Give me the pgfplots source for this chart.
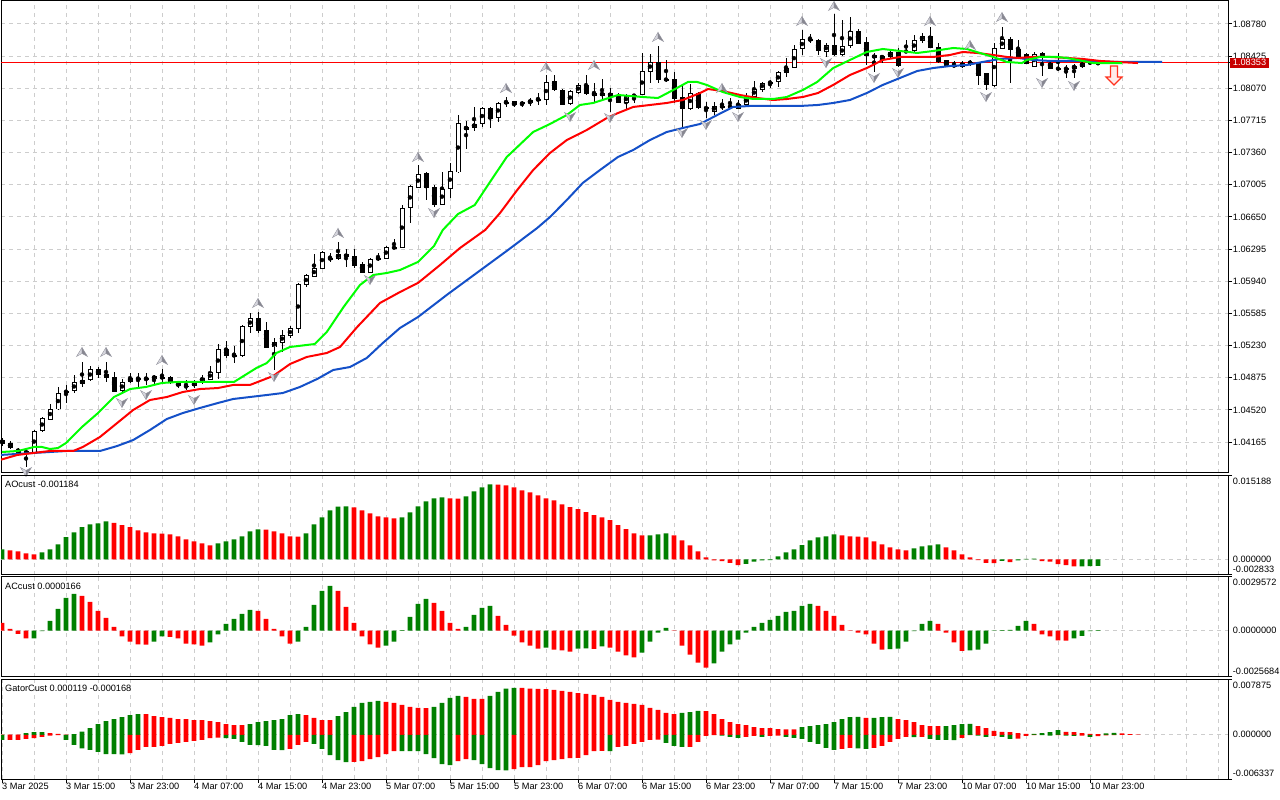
\documentclass[border=0pt]{standalone}
\usepackage{pgfplots}
\pgfplotsset{compat=1.18}
\usepackage{pgfplotstable}
\usepackage{fontspec}
\setmainfont{Liberation Sans}

\definecolor{mtgreen}{RGB}{0,128,0}
\definecolor{mtred}{RGB}{255,0,0}
\definecolor{lips}{RGB}{0,255,0}
\definecolor{teeth}{RGB}{255,0,0}
\definecolor{jaw}{RGB}{20,80,200}
\definecolor{gridc}{RGB}{205,205,205}
\definecolor{pricebox}{RGB}{200,0,0}
\definecolor{fracL}{RGB}{215,215,222}
\definecolor{fracR}{RGB}{135,135,145}
\definecolor{fracE}{RGB}{150,150,160}
\definecolor{arrline}{RGB}{255,50,30}
\definecolor{arrfill}{RGB}{255,235,235}

\pgfdeclareplotmark{fup}{%
  \pgfsetlinewidth{0.4bp}\pgfsetstrokecolor{fracE}%
  \pgfpathmoveto{\pgfqpoint{0bp}{4.5bp}}\pgfpathlineto{\pgfqpoint{-5.5bp}{-4.5bp}}\pgfpathlineto{\pgfqpoint{0bp}{-1.5bp}}\pgfpathclose
  \pgfsetfillcolor{fracL}\pgfusepath{fill,stroke}%
  \pgfpathmoveto{\pgfqpoint{0bp}{4.5bp}}\pgfpathlineto{\pgfqpoint{5.5bp}{-4.5bp}}\pgfpathlineto{\pgfqpoint{0bp}{-1.5bp}}\pgfpathclose
  \pgfsetfillcolor{fracR}\pgfusepath{fill,stroke}}
\pgfdeclareplotmark{fdown}{%
  \pgfsetlinewidth{0.4bp}\pgfsetstrokecolor{fracE}%
  \pgfpathmoveto{\pgfqpoint{0bp}{-4.5bp}}\pgfpathlineto{\pgfqpoint{-5.5bp}{4.5bp}}\pgfpathlineto{\pgfqpoint{0bp}{1.5bp}}\pgfpathclose
  \pgfsetfillcolor{fracL}\pgfusepath{fill,stroke}%
  \pgfpathmoveto{\pgfqpoint{0bp}{-4.5bp}}\pgfpathlineto{\pgfqpoint{5.5bp}{4.5bp}}\pgfpathlineto{\pgfqpoint{0bp}{1.5bp}}\pgfpathclose
  \pgfsetfillcolor{fracR}\pgfusepath{fill,stroke}}
\pgfdeclareplotmark{redarr}{%
  \pgfsetlinewidth{1.2bp}\pgfsetstrokecolor{arrline}\pgfsetfillcolor{arrfill}%
  \pgfpathmoveto{\pgfqpoint{-3.5bp}{9bp}}\pgfpathlineto{\pgfqpoint{3.5bp}{9bp}}%
  \pgfpathlineto{\pgfqpoint{3.5bp}{-2bp}}\pgfpathlineto{\pgfqpoint{8bp}{-2bp}}%
  \pgfpathlineto{\pgfqpoint{0bp}{-10bp}}\pgfpathlineto{\pgfqpoint{-8bp}{-2bp}}%
  \pgfpathlineto{\pgfqpoint{-3.5bp}{-2bp}}\pgfpathclose
  \pgfusepath{fill,stroke}}

\pgfplotstableread{
u o h l c
0 1.04187 1.04209 1.04121 1.04154
1 1.04154 1.04176 1.04088 1.04099
2 1.04077 1.04099 1.04044 1.04055
3 1.04066 1.04077 1.03889 1.04044
4 1.04055 1.04298 1.04044 1.04287
5 1.04287 1.04441 1.04276 1.04430
6 1.04419 1.04585 1.04408 1.04530
7 1.04530 1.04773 1.04519 1.04706
8 1.04728 1.04795 1.04596 1.04717
9 1.04728 1.04905 1.04706 1.04828
10 1.04806 1.05049 1.04773 1.04850
11 1.04850 1.05004 1.04839 1.04971
12 1.04971 1.04993 1.04872 1.04916
13 1.04916 1.05049 1.04828 1.04883
14 1.04883 1.04938 1.04717 1.04728
15 1.04728 1.04861 1.04717 1.04828
16 1.04828 1.04927 1.04817 1.04872
17 1.04872 1.04927 1.04773 1.04861
18 1.04861 1.04927 1.04795 1.04872
19 1.04861 1.04905 1.04795 1.04894
20 1.04872 1.04971 1.04828 1.04883
21 1.04883 1.04894 1.04806 1.04817
22 1.04817 1.04839 1.04761 1.04784
23 1.04784 1.04850 1.04739 1.04773
24 1.04784 1.04850 1.04761 1.04828
25 1.04839 1.04905 1.04806 1.04872
26 1.04861 1.05004 1.04850 1.04938
27 1.04938 1.05247 1.04861 1.05192
28 1.05192 1.05280 1.05093 1.05115
29 1.05126 1.05225 1.05037 1.05115
30 1.05115 1.05457 1.05104 1.05446
31 1.05435 1.05589 1.05369 1.05534
32 1.05534 1.05601 1.05369 1.05402
33 1.05402 1.05490 1.05214 1.05214
34 1.05214 1.05313 1.04960 1.05269
35 1.05269 1.05402 1.05159 1.05347
36 1.05336 1.05446 1.05313 1.05424
37 1.05413 1.05921 1.05369 1.05910
38 1.05899 1.06020 1.05877 1.06009
39 1.05998 1.06241 1.05987 1.06086
40 1.06086 1.06274 1.06075 1.06263
41 1.06197 1.06252 1.06153 1.06186
42 1.06197 1.06373 1.06175 1.06241
43 1.06241 1.06296 1.06097 1.06208
44 1.06219 1.06296 1.06086 1.06119
45 1.06130 1.06153 1.06031 1.06042
46 1.06042 1.06197 1.06031 1.06186
47 1.06197 1.06252 1.06164 1.06186
48 1.06197 1.06329 1.06186 1.06318
49 1.06318 1.06406 1.06296 1.06307
50 1.06318 1.06782 1.06307 1.06749
51 1.06749 1.07003 1.06583 1.06981
52 1.06981 1.07223 1.06969 1.07124
53 1.07124 1.07146 1.06837 1.06969
54 1.06981 1.07003 1.06760 1.06793
55 1.06793 1.07146 1.06782 1.06958
56 1.06969 1.07245 1.06859 1.07157
57 1.07146 1.07775 1.07135 1.07687
58 1.07621 1.07709 1.07400 1.07643
59 1.07643 1.07864 1.07599 1.07676
60 1.07676 1.07864 1.07643 1.07853
61 1.07853 1.07864 1.07632 1.07742
62 1.07742 1.07919 1.07698 1.07908
63 1.07919 1.07974 1.07864 1.07908
64 1.07919 1.07930 1.07864 1.07886
65 1.07897 1.07930 1.07864 1.07908
66 1.07908 1.07963 1.07875 1.07941
67 1.07952 1.08018 1.07886 1.07941
68 1.07941 1.08217 1.07886 1.08140
69 1.08151 1.08217 1.08040 1.08051
70 1.08051 1.08062 1.07886 1.07897
71 1.07897 1.08051 1.07886 1.08040
72 1.08029 1.08129 1.08007 1.08107
73 1.08107 1.08217 1.07996 1.08018
74 1.07996 1.08129 1.07908 1.08018
75 1.07996 1.08173 1.07930 1.08018
76 1.08018 1.08073 1.07809 1.07985
77 1.07985 1.08018 1.07908 1.07919
78 1.07919 1.08007 1.07831 1.07985
79 1.07996 1.08007 1.07908 1.07985
80 1.08007 1.08460 1.07996 1.08261
81 1.08261 1.08449 1.08129 1.08361
82 1.08361 1.08537 1.08129 1.08173
83 1.08173 1.08383 1.08140 1.08162
84 1.08173 1.08250 1.07908 1.07963
85 1.07974 1.08107 1.07632 1.07842
86 1.07842 1.08118 1.07831 1.08018
87 1.08018 1.08029 1.07842 1.07853
88 1.07864 1.07919 1.07742 1.07842
89 1.07820 1.07919 1.07775 1.07875
90 1.07864 1.07952 1.07831 1.07875
91 1.07864 1.07963 1.07853 1.07875
92 1.07853 1.07941 1.07842 1.07897
93 1.07886 1.08018 1.07875 1.07985
94 1.07985 1.08151 1.07974 1.08062
95 1.08062 1.08140 1.08029 1.08129
96 1.08140 1.08162 1.08073 1.08129
97 1.08140 1.08261 1.08085 1.08239
98 1.08239 1.08405 1.08195 1.08294
99 1.08305 1.08548 1.08294 1.08504
100 1.08504 1.08714 1.08438 1.08614
101 1.08614 1.08670 1.08570 1.08603
102 1.08603 1.08614 1.08438 1.08482
103 1.08482 1.08570 1.08416 1.08548
104 1.08548 1.08890 1.08427 1.08438
105 1.08438 1.08824 1.08427 1.08537
106 1.08537 1.08857 1.08515 1.08703
107 1.08703 1.08725 1.08559 1.08570
108 1.08581 1.08637 1.08327 1.08438
109 1.08438 1.08460 1.08250 1.08405
110 1.08405 1.08438 1.08349 1.08427
111 1.08416 1.08493 1.08405 1.08471
112 1.08471 1.08515 1.08305 1.08327
113 1.08471 1.08603 1.08460 1.08482
114 1.08482 1.08659 1.08471 1.08603
115 1.08603 1.08681 1.08570 1.08648
116 1.08648 1.08747 1.08515 1.08526
117 1.08526 1.08570 1.08349 1.08361
118 1.08372 1.08383 1.08305 1.08316
119 1.08327 1.08372 1.08305 1.08316
120 1.08305 1.08372 1.08294 1.08349
121 1.08361 1.08383 1.08316 1.08349
122 1.08349 1.08361 1.08107 1.08217
123 1.08239 1.08239 1.08051 1.08107
124 1.08096 1.08570 1.08085 1.08515
125 1.08515 1.08747 1.08504 1.08614
126 1.08614 1.08637 1.08129 1.08493
127 1.08504 1.08603 1.08416 1.08427
128 1.08449 1.08460 1.08338 1.08349
129 1.08316 1.08471 1.08305 1.08449
130 1.08460 1.08471 1.08206 1.08416
131 1.08349 1.08383 1.08283 1.08294
132 1.08294 1.08460 1.08261 1.08283
133 1.08294 1.08327 1.08184 1.08283
134 1.08294 1.08338 1.08184 1.08316
135 1.08305 1.08372 1.08294 1.08349
136 1.08349 1.08383 1.08327 1.08361
137 1.08345 1.08361 1.08338 1.08353
}\candles

\pgfplotstableread{
u p
0 1.04055
2 1.04066
4 1.04110
5 1.04110
6 1.04088
7 1.04099
8 1.04154
10 1.04331
12 1.04485
14 1.04662
16 1.04750
18 1.04773
20 1.04817
22 1.04828
25 1.04828
27 1.04828
29 1.04828
31.8 1.04982
33.1 1.05037
34.3 1.05148
36 1.05214
39.1 1.05247
40.6 1.05380
42.7 1.05656
44.75 1.05899
46.4 1.06009
48.1 1.06031
49.75 1.06064
52 1.06153
54 1.06329
55.1 1.06506
57 1.06682
59.1 1.06782
61 1.07036
63.1 1.07312
66.4 1.07588
68.5 1.07676
70.6 1.07775
72.25 1.07886
73.9 1.07908
77 1.07996
80.1 1.07974
82 1.07963
83.9 1.08051
85.75 1.08140
86.9 1.08140
88.1 1.08107
90.1 1.08029
92.25 1.07974
93.9 1.07952
96.4 1.07952
98.1 1.07974
100.1 1.08051
101.9 1.08140
103.9 1.08294
106 1.08383
108.1 1.08471
110.1 1.08504
112.25 1.08482
114.4 1.08460
116.4 1.08482
118.9 1.08515
120.6 1.08504
122.25 1.08460
123.9 1.08416
125.6 1.08361
127.5 1.08349
128.1 1.08383
129.75 1.08416
131.9 1.08416
133.1 1.08405
135.1 1.08372
136.4 1.08349
140 1.08349
}\lipsline

\pgfplotstableread{
u p
-0.25 1.03967
1.9 1.04022
3.9 1.04044
6 1.04066
8.9 1.04066
10.1 1.04110
12.25 1.04221
14.4 1.04375
16.4 1.04519
18.5 1.04629
20.6 1.04662
22.6 1.04717
24.75 1.04750
27 1.04761
28.9 1.04795
31 1.04795
33.9 1.04894
36 1.05026
38.1 1.05104
40.6 1.05148
42.25 1.05214
44.4 1.05435
47.25 1.05700
49.75 1.05821
52 1.05921
54.75 1.06119
57.25 1.06307
60.4 1.06506
62.25 1.06693
64.4 1.06947
66.4 1.07168
68.5 1.07356
70.6 1.07499
73.1 1.07610
75.6 1.07742
77 1.07797
78.9 1.07864
81 1.07886
83.1 1.07908
85.1 1.07941
87.25 1.08018
88.25 1.08062
90.1 1.08040
92.25 1.07996
94.4 1.07963
96.4 1.07941
98.1 1.07952
100.1 1.07974
102 1.08018
103.9 1.08107
106 1.08217
108.1 1.08294
110.1 1.08383
112.25 1.08416
114.4 1.08416
116.4 1.08416
118.5 1.08438
120.1 1.08471
121.9 1.08460
123.9 1.08438
125.6 1.08416
127 1.08405
128.9 1.08416
131 1.08416
133.1 1.08405
135.1 1.08394
137.25 1.08372
139.4 1.08361
142 1.08349
}\teethline

\pgfplotstableread{
u p
-0.25 1.04022
3.9 1.04044
8.1 1.04066
10.1 1.04066
12.25 1.04066
14.4 1.04121
16.4 1.04187
18.5 1.04298
20.6 1.04419
22.6 1.04485
24.75 1.04541
27 1.04596
28.9 1.04640
33.1 1.04684
35.1 1.04706
37.25 1.04773
39.4 1.04861
41.4 1.04960
43.5 1.04993
45.6 1.05093
47.6 1.05258
49.75 1.05424
52 1.05545
55.75 1.05799
59.5 1.06042
63.25 1.06285
66.9 1.06528
68.5 1.06649
70.6 1.06837
72.6 1.07025
74.75 1.07168
77 1.07312
78.9 1.07389
81 1.07499
83.1 1.07588
85.1 1.07632
87.25 1.07676
89.4 1.07775
91.4 1.07864
93.5 1.07875
96.4 1.07875
99.75 1.07875
102 1.07886
103.9 1.07908
106 1.07941
108.1 1.08018
110.1 1.08107
112.25 1.08184
114.4 1.08261
116.4 1.08294
118.5 1.08316
120.6 1.08327
122.6 1.08361
124.75 1.08394
127 1.08405
128.9 1.08383
131 1.08372
135.1 1.08372
139.4 1.08361
145 1.08361
}\jawline

\pgfplotstableread{
u v g
0 0.00182 1
1 0.00164 0
2 0.00146 0
3 0.00109 0
4 0.00091 0
5 0.00127 1
6 0.00182 1
7 0.00273 1
8 0.00406 1
9 0.00491 1
10 0.00588 1
11 0.00637 1
12 0.00655 1
13 0.00692 1
14 0.00667 0
15 0.00625 0
16 0.00588 0
17 0.00528 0
18 0.00491 0
19 0.00473 0
20 0.00470 0
21 0.00455 0
22 0.00419 0
23 0.00364 0
24 0.00328 0
25 0.00291 0
26 0.00255 0
27 0.00291 1
28 0.00328 1
29 0.00364 1
30 0.00419 1
31 0.00510 1
32 0.00546 1
33 0.00544 0
34 0.00510 0
35 0.00473 0
36 0.00419 0
37 0.00417 0
38 0.00473 1
39 0.00637 1
40 0.00764 1
41 0.00892 1
42 0.00962 1
43 0.00965 1
44 0.00946 0
45 0.00892 0
46 0.00837 0
47 0.00783 0
48 0.00764 0
49 0.00746 0
50 0.00764 1
51 0.00855 1
52 0.00965 1
53 0.01056 1
54 0.01110 1
55 0.01128 1
56 0.01112 0
57 0.01108 0
58 0.01147 1
59 0.01238 1
60 0.01310 1
61 0.01365 1
62 0.01362 0
63 0.01347 0
64 0.01310 0
65 0.01256 0
66 0.01219 0
67 0.01165 0
68 0.01110 0
69 0.01074 0
70 0.01001 0
71 0.00950 0
72 0.00917 0
73 0.00862 0
74 0.00807 0
75 0.00765 0
76 0.00716 0
77 0.00625 0
78 0.00552 0
79 0.00473 0
80 0.00437 0
81 0.00440 1
82 0.00455 1
83 0.00473 1
84 0.00437 0
85 0.00346 0
86 0.00255 0
87 0.00146 0
88 0.00036 0
89 -0.00018 0
90 -0.00030 0
91 -0.00061 0
92 -0.00103 0
93 -0.00079 1
94 -0.00042 1
95 -0.00018 1
96 -0.00012 1
97 0.00055 1
98 0.00127 1
99 0.00182 1
100 0.00261 1
101 0.00346 1
102 0.00401 1
103 0.00419 1
104 0.00455 1
105 0.00437 0
106 0.00419 0
107 0.00416 0
108 0.00401 0
109 0.00328 0
110 0.00273 0
111 0.00219 0
112 0.00182 0
113 0.00164 0
114 0.00200 1
115 0.00237 1
116 0.00255 1
117 0.00273 1
118 0.00219 0
119 0.00164 0
120 0.00091 0
121 0.00036 0
122 -0.00012 0
123 -0.00061 0
124 -0.00067 0
125 -0.00024 1
126 -0.00049 0
127 -0.00018 1
128 0.00012 1
129 0.00014 1
130 -0.00030 0
131 -0.00042 0
132 -0.00085 0
133 -0.00105 0
134 -0.00128 0
135 -0.00125 1
136 -0.00121 1
137 -0.001184 1
}\aotab

\pgfplotstableread{
u v g
0 0.00042 0
1 0.00009 0
2 -0.00018 0
3 -0.00044 0
4 -0.00043 1
5 -0.00004 1
6 0.00053 1
7 0.00120 1
8 0.00181 1
9 0.00203 1
10 0.00192 0
11 0.00158 0
12 0.00109 0
13 0.00070 0
14 0.00020 0
15 -0.00033 0
16 -0.00061 0
17 -0.00077 0
18 -0.00078 0
19 -0.00061 1
20 -0.00033 1
21 -0.00035 0
22 -0.00044 0
23 -0.00072 0
24 -0.00077 0
25 -0.00083 0
26 -0.00066 1
27 -0.00022 1
28 0.00037 1
29 0.00065 1
30 0.00092 1
31 0.00114 1
32 0.00109 0
33 0.00065 0
34 0.00009 0
35 -0.00033 0
36 -0.00072 0
37 -0.00061 1
38 0.00020 1
39 0.00142 1
40 0.00219 1
41 0.00247 1
42 0.00219 0
43 0.00131 0
44 0.00042 0
45 -0.00033 0
46 -0.00077 0
47 -0.00094 0
48 -0.00083 1
49 -0.00061 1
50 0.00002 1
51 0.00076 1
52 0.00147 1
53 0.00175 1
54 0.00153 0
55 0.00109 0
56 0.00042 0
57 0.00009 0
58 0.00020 1
59 0.00087 1
60 0.00125 1
61 0.00136 1
62 0.00081 0
63 0.00031 0
64 -0.00028 0
65 -0.00066 0
66 -0.00083 0
67 -0.00100 0
68 -0.00094 1
69 -0.00105 0
70 -0.00110 0
71 -0.00116 0
72 -0.00100 1
73 -0.00099 1
74 -0.00101 0
75 -0.00088 1
76 -0.00094 0
77 -0.00116 0
78 -0.00138 0
79 -0.00149 0
80 -0.00122 1
81 -0.00061 1
82 -0.00011 1
83 0.00015 1
84 -0.00002 0
85 -0.00083 0
86 -0.00133 0
87 -0.00177 0
88 -0.00205 0
89 -0.00182 1
90 -0.00116 1
91 -0.00077 1
92 -0.00050 1
93 -0.00011 1
94 0.00020 1
95 0.00042 1
96 0.00059 1
97 0.00081 1
98 0.00103 1
99 0.00109 1
100 0.00136 1
101 0.00147 1
102 0.00136 0
103 0.00109 0
104 0.00081 0
105 0.00031 0
106 -0.00002 0
107 -0.00011 0
108 -0.00022 0
109 -0.00072 0
110 -0.00106 0
111 -0.00103 1
112 -0.00100 1
113 -0.00061 1
114 -0.00004 1
115 0.00037 1
116 0.00053 1
117 0.00037 0
118 -0.00011 0
119 -0.00066 0
120 -0.00112 0
121 -0.00110 1
122 -0.00105 1
123 -0.00072 1
124 0.00001 1
125 0.00002 1
126 0.00003 1
127 0.00026 1
128 0.00053 1
129 0.00037 0
130 -0.00022 0
131 -0.00033 0
132 -0.00055 0
133 -0.00056 0
134 -0.00044 1
135 -0.00030 1
136 -0.00003 1
137 0.0000166 1
}\actab

\pgfplotstableread{
u up ug lo lg
0 0.00005 0 -0.00072 1
1 0.00005 0 -0.00072 0
2 0.00005 0 -0.00072 0
3 0.00024 1 -0.00058 0
4 0.00039 1 -0.00048 0
5 0.00041 1 -0.00029 0
6 0.00024 0 -0.00010 0
7 0.00014 0 -0.00003 0
8 0.00005 0 -0.00072 1
9 0.00010 1 -0.00145 1
10 0.00048 1 -0.00193 1
11 0.00097 1 -0.00217 1
12 0.00155 1 -0.00246 1
13 0.00198 1 -0.00275 1
14 0.00227 1 -0.00277 1
15 0.00256 1 -0.00279 1
16 0.00285 1 -0.00261 0
17 0.00299 1 -0.00217 0
18 0.00297 0 -0.00174 0
19 0.00270 0 -0.00172 0
20 0.00256 0 -0.00159 0
21 0.00242 0 -0.00130 0
22 0.00227 0 -0.00116 0
23 0.00225 0 -0.00101 0
24 0.00213 0 -0.00087 0
25 0.00211 0 -0.00072 0
26 0.00198 0 -0.00048 0
27 0.00184 0 -0.00039 0
28 0.00155 0 -0.00048 1
29 0.00140 0 -0.00058 1
30 0.00138 0 -0.00101 1
31 0.00155 1 -0.00145 1
32 0.00184 1 -0.00146 1
33 0.00198 1 -0.00159 1
34 0.00213 1 -0.00217 1
35 0.00227 1 -0.00218 1
36 0.00285 1 -0.00203 0
37 0.00299 1 -0.00145 0
38 0.00285 0 -0.00101 0
39 0.00242 0 -0.00130 1
40 0.00213 0 -0.00203 1
41 0.00211 0 -0.00290 1
42 0.00270 1 -0.00362 1
43 0.00328 1 -0.00391 1
44 0.00401 1 -0.00389 0
45 0.00459 1 -0.00377 0
46 0.00473 1 -0.00348 0
47 0.00488 1 -0.00319 0
48 0.00473 0 -0.00275 0
49 0.00459 0 -0.00232 0
50 0.00430 0 -0.00233 1
51 0.00401 0 -0.00234 1
52 0.00386 0 -0.00235 1
53 0.00384 0 -0.00275 1
54 0.00401 1 -0.00333 1
55 0.00459 1 -0.00420 1
56 0.00531 1 -0.00435 1
57 0.00560 1 -0.00377 0
58 0.00546 0 -0.00348 0
59 0.00517 0 -0.00362 1
60 0.00515 0 -0.00420 1
61 0.00560 1 -0.00478 1
62 0.00618 1 -0.00507 1
63 0.00662 1 -0.00509 1
64 0.00676 1 -0.00493 0
65 0.00674 0 -0.00464 0
66 0.00662 0 -0.00462 0
67 0.00660 0 -0.00435 0
68 0.00658 0 -0.00377 0
69 0.00647 0 -0.00362 0
70 0.00633 0 -0.00348 0
71 0.00618 0 -0.00333 0
72 0.00600 0 -0.00331 0
73 0.00589 0 -0.00290 0
74 0.00575 0 -0.00232 0
75 0.00546 0 -0.00230 0
76 0.00502 0 -0.00233 1
77 0.00473 0 -0.00174 0
78 0.00459 0 -0.00159 0
79 0.00444 0 -0.00130 0
80 0.00430 0 -0.00101 0
81 0.00386 0 -0.00072 0
82 0.00357 0 -0.00070 0
83 0.00314 0 -0.00116 1
84 0.00299 0 -0.00159 1
85 0.00314 1 -0.00174 1
86 0.00328 1 -0.00172 0
87 0.00343 1 -0.00101 0
88 0.00340 0 -0.00014 0
89 0.00299 0 -0.00003 0
90 0.00227 0 -0.00010 1
91 0.00184 0 -0.00029 1
92 0.00155 0 -0.00043 1
93 0.00140 0 -0.00029 0
94 0.00111 0 -0.00014 0
95 0.00097 0 -0.00029 1
96 0.00095 0 -0.00014 0
97 0.00082 0 -0.00010 0
98 0.00080 0 -0.00029 1
99 0.00078 0 -0.00043 1
100 0.00111 1 -0.00058 1
101 0.00126 1 -0.00101 1
102 0.00140 1 -0.00130 1
103 0.00155 1 -0.00188 1
104 0.00184 1 -0.00217 1
105 0.00227 1 -0.00203 0
106 0.00256 1 -0.00188 0
107 0.00258 1 -0.00195 1
108 0.00242 0 -0.00200 1
109 0.00244 1 -0.00188 0
110 0.00256 1 -0.00159 0
111 0.00258 1 -0.00101 0
112 0.00227 0 -0.00058 0
113 0.00213 0 -0.00029 0
114 0.00184 0 -0.00032 1
115 0.00140 0 -0.00029 0
116 0.00126 0 -0.00058 1
117 0.00124 0 -0.00072 1
118 0.00127 1 -0.00073 1
119 0.00140 1 -0.00074 1
120 0.00155 1 -0.00043 0
121 0.00156 1 -0.00005 0
122 0.00126 0 -0.00010 1
123 0.00097 0 -0.00029 1
124 0.00058 0 -0.00014 0
125 0.00043 0 -0.00029 1
126 0.00039 0 -0.00058 1
127 0.00024 0 -0.00055 0
128 0.00014 0 -0.00014 0
129 0.00015 1 -0.00003 0
130 0.00024 1 -0.00005 1
131 0.00039 1 -0.00010 1
132 0.00068 1 -0.00003 0
133 0.00043 0 -0.00010 1
134 0.00039 0 -0.00014 1
135 0.00024 0 -0.00010 0
136 0.00014 0 -0.00029 1
137 0.000119 0 -0.000168 0
138 0.00020 1 -0.00008 0
139 0.00030 1 -0.00003 0
140 0.00022 0 -0.00002 0
141 0.00012 0 0 0
142 0.00005 0 0 0
}\gatortab

\tikzset{lab/.style={anchor=west, inner sep=0pt}}

\pgfplotsset{
  panel/.style={
    anchor=south west, scale only axis, width=1227bp,
    xmin=-0.125, xmax=153.25,
    axis line style={line width=1bp},
    xtick={4,8,...,152}, xticklabels={},
    xmajorgrids,
    grid style={color=gridc, dash pattern=on 4bp off 4bp, line width=1bp},
    tick align=outside, major tick length=4bp,
    ytick pos=right, yticklabel pos=right,
    tick style={black, line width=1bp},
    scaled y ticks=false, scaled x ticks=false,
    clip mode=individual,
    font=\fontsize{9.2bp}{11bp}\selectfont,
    tick label style={font=\fontsize{9.2bp}{11bp}\selectfont},
    filter discard warning=false,
  },
  ind/.style={
    ytick={#1}, yticklabels={},
    extra y ticks={0}, extra y tick labels={},
    extra y tick style={grid=major, major tick length=0pt},
  },
  hbar/.style={ybar, bar width=0.6, bar shift=0pt, draw=none, fill=#1},
}

\begin{document}
\begin{tikzpicture}[x=1bp,y=1bp]
\useasboundingbox (0,0) rectangle (1280bp,800bp);

% ---------------- main price panel ----------------
\begin{axis}[panel, at={(1bp,327bp)}, height=472bp,
  xtick style={draw=none},
  ymin=1.03823, ymax=1.09034,
  ymajorgrids,
  ytick={1.04165,1.04520,1.04875,1.05230,1.05585,1.05940,1.06295,1.06650,1.07005,1.07360,1.07715,1.08070,1.08425,1.08780},
  yticklabels={1.04165,1.04520,1.04875,1.05230,1.05585,1.05940,1.06295,1.06650,1.07005,1.07360,1.07715,1.08070,1.08425,1.08780},
  yticklabel style={anchor=west, inner sep=0pt, xshift=0.7bp},
  extra y ticks={1.08353}, extra y tick labels={1.08353},
  extra y tick style={grid=major, major grid style={color=red, solid, line width=1bp},
    yticklabel style={fill=pricebox, text=white, inner xsep=2.5bp, inner ysep=1.6bp, xshift=-2.5bp}},
]
% wicks
\addplot[only marks, mark=none, error bars/.cd, y dir=both, y explicit, error mark=none,
  error bar style={black, line width=1bp}]
  table[x=u, y expr=(\thisrow{h}+\thisrow{l})/2, y error expr=(\thisrow{h}-\thisrow{l})/2] {\candles};
% bodies (outline / black)
\addplot[only marks, mark=none, error bars/.cd, y dir=both, y explicit, error mark=none,
  error bar style={black, line width=5bp}]
  table[x=u, y expr=(\thisrow{o}+\thisrow{c})/2, y error expr=abs(\thisrow{c}-\thisrow{o})/2+0.00005] {\candles};
% white bodies
\addplot[only marks, mark=none, error bars/.cd, y dir=both, y explicit, error mark=none,
  error bar style={white, line width=3bp}]
  table[x=u, y expr={\thisrow{c}-\thisrow{o}>0.00016 ? (\thisrow{o}+\thisrow{c})/2 : nan},
        y error expr=(\thisrow{c}-\thisrow{o})/2-0.00006] {\candles};
% alligator
\addplot[jaw, line width=2bp] table[x=u, y=p] {\jawline};
\addplot[teeth, line width=2bp] table[x=u, y=p] {\teethline};
\addplot[lips, line width=2bp] table[x=u, y=p] {\lipsline};
% fractals
\addplot[only marks, mark=fup] coordinates {
(10,1.05159) (13,1.05159) (20,1.05071) (32,1.05700) (42,1.06473) (52,1.07312)
(63,1.08073) (68,1.08305) (74,1.08327) (82,1.08637) (90,1.08073) (100,1.08813)
(104,1.08979) (116,1.08813) (121,1.08548) (125,1.08857)};
\addplot[only marks, mark=fdown] coordinates {
(3,1.03834) (15,1.04596) (18,1.04684) (24,1.04629) (34,1.04883) (46,1.05954)
(54,1.06693) (71,1.07753) (76,1.07742) (85,1.07577) (88,1.07665) (92,1.07753)
(103,1.08349) (109,1.08184) (112,1.08239) (123,1.07974) (130,1.08129) (134,1.08096)};
\addplot[only marks, mark=redarr] coordinates {(139,1.08217)};
\end{axis}

% ---------------- AO ----------------
\begin{axis}[panel, at={(1bp,225bp)}, height=99bp, xtick style={draw=none},
  ymin=-0.002833, ymax=0.015188, ind={-0.002833,0.015188}]
\addplot[hbar=mtgreen] table[x=u, y expr={\thisrow{g}>0.5 ? \thisrow{v} : nan}] {\aotab};
\addplot[hbar=mtred] table[x=u, y expr={\thisrow{g}<0.5 ? \thisrow{v} : nan}] {\aotab};
\node[lab, xshift=4bp, yshift=-8.5bp] at (rel axis cs:0,1) {AOcust -0.001184};
\node[anchor=north west, inner sep=0pt, xshift=4.7bp, yshift=-1.5bp] at (rel axis cs:1,1) {0.015188};
\node[lab, xshift=4.7bp, yshift=0.5bp] at (axis cs:153.25,0) {0.000000};
\node[anchor=south west, inner sep=0pt, xshift=4.7bp, yshift=2.2bp] at (rel axis cs:1,0) {-0.002833};
\end{axis}

% ---------------- AC ----------------
\begin{axis}[panel, at={(1bp,123bp)}, height=100bp, xtick style={draw=none},
  ymin=-0.0025684, ymax=0.0029572, ind={-0.0025684,0.0029572}]
\addplot[hbar=mtgreen] table[x=u, y expr={\thisrow{g}>0.5 ? \thisrow{v} : nan}] {\actab};
\addplot[hbar=mtred] table[x=u, y expr={\thisrow{g}<0.5 ? \thisrow{v} : nan}] {\actab};
\node[lab, xshift=4bp, yshift=-9bp] at (rel axis cs:0,1) {ACcust 0.0000166};
\node[anchor=north west, inner sep=0pt, xshift=4.7bp, yshift=-1.5bp] at (rel axis cs:1,1) {0.0029572};
\node[lab, xshift=4.7bp, yshift=0.3bp] at (axis cs:153.25,0) {0.0000000};
\node[anchor=south west, inner sep=0pt, xshift=4.7bp, yshift=2.2bp] at (rel axis cs:1,0) {-0.0025684};
\end{axis}

% ---------------- Gator ----------------
\begin{axis}[panel, at={(1bp,21bp)}, height=99bp,
  ymin=-0.006337, ymax=0.007875, ind={-0.006337,0.007875},
  xtick={0,8,...,136},
  xticklabels={3 Mar 2025,3 Mar 15:00,3 Mar 23:00,4 Mar 07:00,4 Mar 15:00,4 Mar 23:00,5 Mar 07:00,5 Mar 15:00,5 Mar 23:00,6 Mar 07:00,6 Mar 15:00,6 Mar 23:00,7 Mar 07:00,7 Mar 15:00,7 Mar 23:00,10 Mar 07:00,10 Mar 15:00,10 Mar 23:00},
  xtick pos=lower,
  xticklabel style={anchor=north west, inner sep=0pt},
  minor xtick={4,12,...,148,144,152}, xminorgrids, minor tick length=0pt,
  minor grid style={color=gridc, dash pattern=on 4bp off 4bp, line width=1bp},
]
\addplot[hbar=mtgreen] table[x=u, y expr={\thisrow{ug}>0.5 ? \thisrow{up} : nan}] {\gatortab};
\addplot[hbar=mtred] table[x=u, y expr={\thisrow{ug}<0.5 ? \thisrow{up} : nan}] {\gatortab};
\addplot[hbar=mtgreen] table[x=u, y expr={\thisrow{lg}>0.5 ? \thisrow{lo} : nan}] {\gatortab};
\addplot[hbar=mtred] table[x=u, y expr={\thisrow{lg}<0.5 ? \thisrow{lo} : nan}] {\gatortab};
\node[lab, xshift=4bp, yshift=-8.7bp] at (rel axis cs:0,1) {GatorCust 0.000119 -0.000168};
\node[anchor=north west, inner sep=0pt, xshift=4.7bp, yshift=-1.5bp] at (rel axis cs:1,1) {0.007875};
\node[lab, xshift=4.7bp, yshift=0.7bp] at (axis cs:153.25,0) {0.000000};
\node[anchor=south west, inner sep=0pt, xshift=4.7bp, yshift=2.2bp] at (rel axis cs:1,0) {-0.006337};
\end{axis}
\end{tikzpicture}
\end{document}
